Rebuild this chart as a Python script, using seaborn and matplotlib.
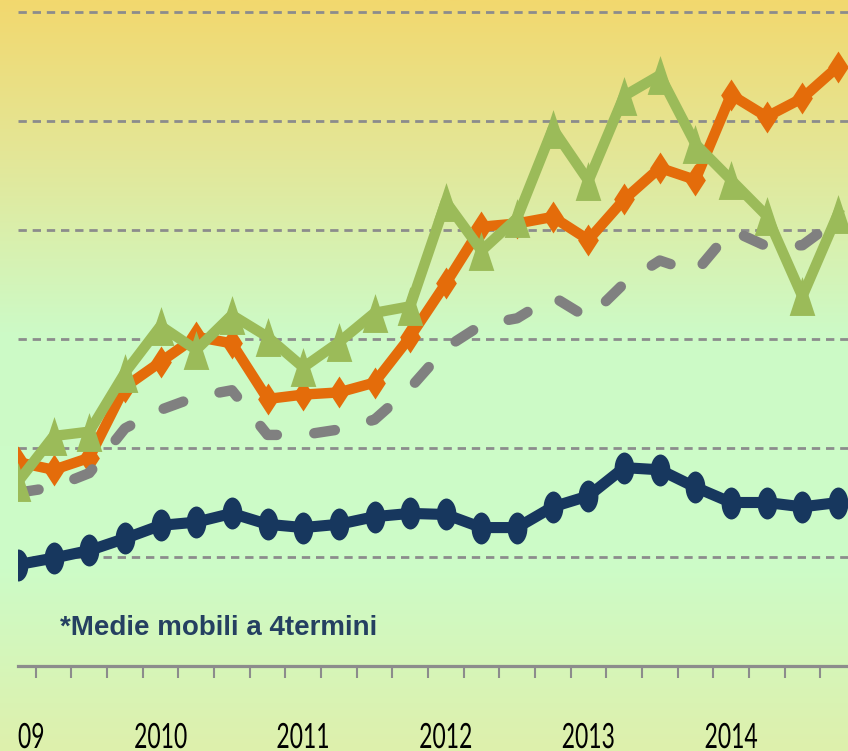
import numpy as np
import pandas as pd
import matplotlib
matplotlib.use("Agg")
import matplotlib.pyplot as plt
import seaborn as sns
from matplotlib.path import Path
from matplotlib.colors import LinearSegmentedColormap
from matplotlib.transforms import Bbox, TransformedBbox, Affine2D
from matplotlib.patheffects import AbstractPathEffect

# quarterly points, 2009 Q1 .. 2014 Q4
years = ["2009", "2010", "2011", "2012", "2013", "2014"]
navy_vals = [0.93, 0.99, 1.06, 1.17, 1.29, 1.32, 1.40, 1.30, 1.27, 1.30, 1.37, 1.40,
             1.39, 1.27, 1.27, 1.46, 1.56, 1.82, 1.80, 1.64, 1.50, 1.50, 1.46, 1.50]
orange_vals = [1.87, 1.80, 1.91, 2.56, 2.79, 3.02, 2.96, 2.45, 2.49, 2.51, 2.60, 3.02,
               3.51, 4.03, 4.06, 4.12, 3.91, 4.28, 4.57, 4.46, 5.24, 5.04, 5.21, 5.50]
green_vals = [1.69, 2.11, 2.15, 2.69, 3.12, 2.90, 3.22, 3.02, 2.74, 2.97, 3.24, 3.30,
              4.26, 3.81, 4.11, 4.93, 4.45, 5.23, 5.42, 4.79, 4.46, 4.13, 3.39, 4.15]
gray_vals = [1.59, 1.64, 1.77, 2.18, 2.35, 2.47, 2.53, 2.12, 2.12, 2.17, 2.26, 2.55,
             2.92, 3.13, 3.19, 3.39, 3.19, 3.51, 3.72, 3.61, 4.00, 3.85, 3.86, 4.10]
note = "*Medie mobili a 4termini"

df = pd.DataFrame({"t": np.arange(len(navy_vals)), "navy": navy_vals,
                   "orange": orange_vals, "green": green_vals, "gray": gray_vals})

NAVY = "#17375e"
ORANGE = "#e46c0a"
GREEN = "#9bbb59"
GRAY = "#808080"
GRID = "#8c8c8c"


class Squeeze(AbstractPathEffect):
    """draw text narrower (condensed look) around its own centre"""
    def __init__(self, sx):
        super().__init__()
        self.sx = sx

    def draw_path(self, renderer, gc, tpath, affine, rgbFace=None):
        ext = tpath.get_extents()
        cx = (ext.x0 + ext.x1) / 2
        squeeze = Affine2D().translate(-cx, 0).scale(self.sx, 1).translate(cx, 0)
        renderer.draw_path(gc, tpath, squeeze + affine, rgbFace)


# stretched markers (the original chart was squeezed horizontally)
ellipse = Path(Path.unit_circle().vertices * [0.62, 1.0], Path.unit_circle().codes)
diamond = Path([(0, 1), (0.65, 0), (0, -1), (-0.65, 0), (0, 1)],
               [Path.MOVETO, Path.LINETO, Path.LINETO, Path.LINETO, Path.CLOSEPOLY])
triangle = Path([(0, 1), (0.66, -1), (-0.66, -1), (0, 1)],
                [Path.MOVETO, Path.LINETO, Path.LINETO, Path.CLOSEPOLY])

fig = plt.figure(figsize=(8.48, 7.51), dpi=100)

# gradient background
bg = fig.add_axes([0, 0, 1, 1], zorder=-5)
cmap = LinearSegmentedColormap.from_list("bg", [
    (0.0, (242/255, 216/255, 110/255)),
    (0.2, (228/255, 230/255, 150/255)),
    (0.44, (205/255, 250/255, 198/255)),
    (0.75, (204/255, 252/255, 200/255)),
    (1.0, (222/255, 240/255, 172/255))])
bg.imshow(np.linspace(0, 1, 256).reshape(-1, 1), cmap=cmap, aspect="auto",
          extent=[0, 1, 1, 0])
bg.set_axis_off()

ax = fig.add_axes([18/848, 85/751, 830/848, 666/751])
ax.set_facecolor("none")

sns.lineplot(data=df, x="t", y="navy", ax=ax, color=NAVY, lw=8,
             marker=ellipse, markersize=23, markeredgewidth=0, zorder=3)
sns.lineplot(data=df, x="t", y="orange", ax=ax, color=ORANGE, lw=7.5,
             marker=diamond, markersize=23, markeredgewidth=0, zorder=4)
sns.lineplot(data=df, x="t", y="gray", ax=ax, color=GRAY, lw=7.5,
             linestyle=(0, (2.0, 3.6)), dash_capstyle="round", zorder=5)
sns.lineplot(data=df, x="t", y="green", ax=ax, color=GREEN, lw=7.5,
             marker=triangle, markersize=28, markeredgewidth=0, zorder=6)

ax.set_xlim(0, 23.28)
ax.set_ylim(0, 666/109)
ax.set_xlabel("")
ax.set_ylabel("")

ax.set_yticks(range(1, 7))
ax.yaxis.grid(True, color=GRID, lw=2.0, linestyle=(0, (3, 2.1)), zorder=0)
ax.set_axisbelow(True)
ax.tick_params(axis="y", length=0, labelleft=False)

ax.set_xticks(np.arange(0.5, 23, 1.0))
ax.tick_params(axis="x", length=8.6, width=1.5, color=GRID, labelbottom=False,
               direction="out")
for s in ["left", "right", "top"]:
    ax.spines[s].set_visible(False)
ax.spines["bottom"].set_color(GRID)
ax.spines["bottom"].set_linewidth(2.3)

clip = TransformedBbox(Bbox([[18/848, 0], [1, 1]]), fig.transFigure)
for i, yr in enumerate(years):
    t = ax.text(i * 4, -72/109, yr, ha="center", va="center", fontsize=25,
                family=["Lato", "DejaVu Sans"], color="black",
                clip_on=True, path_effects=[Squeeze(0.66)])
    t.set_clip_box(clip)

fig.text(60/848, 1 - 628/751, note, ha="left", va="center", fontsize=20,
         fontweight="bold", color="#254061",
         family=["Liberation Sans", "DejaVu Sans"])

fig.savefig("out.png", dpi=100)
